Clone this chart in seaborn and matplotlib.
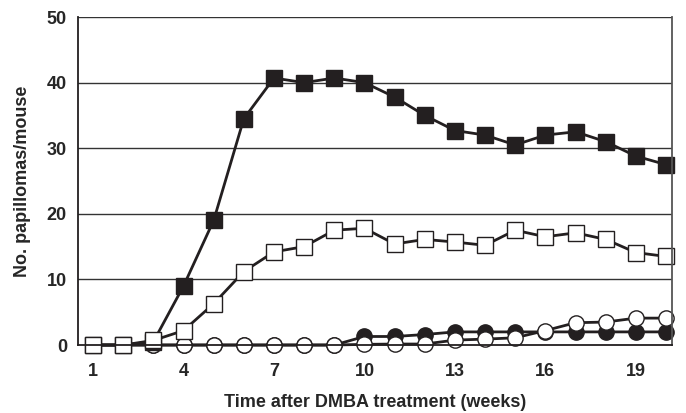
import matplotlib
matplotlib.use("Agg")
import matplotlib.pyplot as plt
import seaborn as sns
import pandas as pd

weeks = list(range(1, 21))
filled_squares = [0, 0, 0.5, 9, 19, 34.5, 40.7, 40, 40.7, 40, 37.8, 35, 32.7, 32, 30.5, 32, 32.5, 31, 28.8, 27.5]
open_squares = [0, 0, 0.7, 2.2, 6.3, 11.2, 14.2, 15, 17.5, 17.8, 15.4, 16.1, 15.7, 15.2, 17.5, 16.5, 17.1, 16.1, 14.1, 13.5]
filled_circles = [0, 0, 0, 0, 0, 0, 0, 0, 0, 1.3, 1.3, 1.6, 2.0, 2.0, 2.0, 2.0, 2.0, 2.0, 2.0, 2.0]
open_circles = [0, 0, 0, 0, 0, 0, 0, 0, 0, 0.1, 0.15, 0.15, 0.75, 0.9, 1.1, 2.2, 3.4, 3.5, 4.1, 4.1]
xticks = [1, 4, 7, 10, 13, 16, 19]
yticks = [0, 10, 20, 30, 40, 50]

sns.set_style("white")
plt.rcParams['font.family'] = ['Liberation Sans', 'DejaVu Sans']

fig = plt.figure(figsize=(6.86, 4.13), dpi=100)
ax = fig.add_axes([0.1137, 0.1646, 0.9796 - 0.1137, 0.9588 - 0.1646])

for yv in yticks[1:]:
    ax.axhline(yv, color="#333333", lw=1.0, zorder=0)

series = [
    (filled_circles, "o", "#231f20", 11),
    (open_circles, "o", "white", 11),
    (filled_squares, "s", "#231f20", 12),
    (open_squares, "s", "white", 12),
]
for vals, mk, fc, ms in series:
    df = pd.DataFrame({"week": weeks, "val": vals})
    sns.lineplot(data=df, x="week", y="val", ax=ax, color="#231f20", lw=2.0,
                 marker=mk, markersize=ms, markerfacecolor=fc,
                 markeredgecolor="#231f20", markeredgewidth=1.0, clip_on=False)

ax.set_xlim(0.5, 20.2)
ax.set_ylim(0, 50)
ax.set_xticks(xticks)
ax.set_yticks(yticks)
ax.tick_params(axis="x", labelsize=13, length=0, pad=13)
ax.tick_params(axis="y", labelsize=13, length=4, direction="out", color="#333333", pad=4)
for lab in ax.get_xticklabels() + ax.get_yticklabels():
    lab.set_fontweight("bold")
ax.set_xlabel("Time after DMBA treatment (weeks)", fontsize=13, fontweight="bold", labelpad=10)
ax.set_ylabel("No. papillomas/mouse", fontsize=13, fontweight="bold", labelpad=11)
for side in ["left", "bottom", "right"]:
    ax.spines[side].set_visible(True)
    ax.spines[side].set_color("#231f20")
    ax.spines[side].set_linewidth(1.3)
ax.spines["right"].set_color("#555555")
ax.spines["top"].set_visible(False)

fig.savefig("out.png", dpi=100)
